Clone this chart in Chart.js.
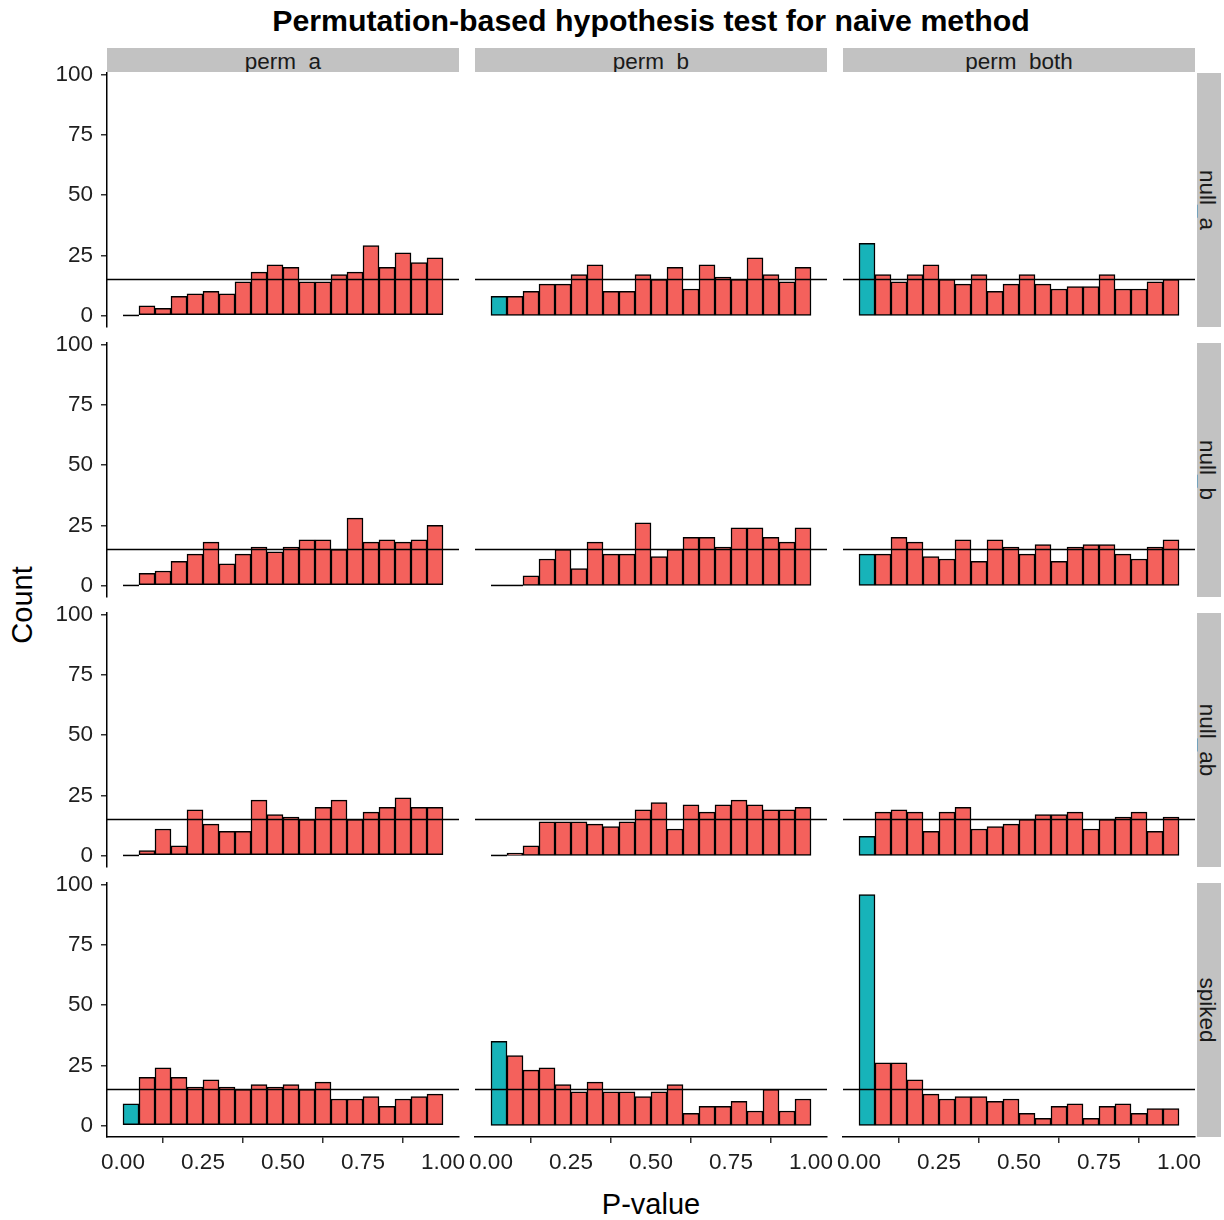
<!DOCTYPE html>
<html>
<head>
<meta charset="utf-8">
<title>Permutation-based hypothesis test for naive method</title>
<script src="https://cdn.jsdelivr.net/npm/chart.js@4.4.1/dist/chart.umd.min.js"></script>
<style>
  body { margin: 0; background: #fff; }
  #page { position: relative; width: 1224px; height: 1220px; overflow: hidden;
          font-family: 'Liberation Sans', Arial, sans-serif; color: #000; }
  #page canvas { position: absolute; }
  .title { position: absolute; left: 107px; width: 1088px; top: 3px; text-align: center;
           font-weight: bold; font-size: 30.3px; line-height: 36px; white-space: nowrap; }
  .strip { position: absolute; background: #c2c2c2; overflow: hidden; }
  .strip .inner { position: absolute; left: 0; top: 0; }
  .strip span { position: absolute; left: 0; right: 0; top: 3px; text-align: center;
                font-size: 22.5px; line-height: 22.5px; color: #1a1a1a; white-space: nowrap; }
  .axis-title { position: absolute; font-size: 29px; line-height: 34px; white-space: nowrap;
                transform: translate(-50%, -50%); }
</style>
</head>
<body>
<div id="page">
  <div class="title">Permutation-based hypothesis test for naive method</div>
  <div class="axis-title" style="left:22px; top:605px; transform: translate(-50%, -50%) rotate(-90deg);">Count</div>
  <div class="axis-title" style="left:651px; top:1204px;">P-value</div>
</div>
<script>
// bins of width 0.05 (centres), same for every facet
const binCenters = [0.025, 0.075, 0.125, 0.175, 0.225, 0.275, 0.325, 0.375, 0.425, 0.475,
                    0.525, 0.575, 0.625, 0.675, 0.725, 0.775, 0.825, 0.875, 0.925, 0.975];
const xTickValues = [0, 0.25, 0.5, 0.75, 1];
const xTickLabels = ['0.00', '0.25', '0.50', '0.75', '1.00'];
const yTickValues = [0, 25, 50, 75, 100];
const yTickLabels = ['0', '25', '50', '75', '100'];

const columnLabels = ['perm_a', 'perm_b', 'perm_both'];
const rowLabels = ['null_a', 'null_b', 'null_ab', 'spiked'];

// expected count per bin under uniform p-values (300 tests / 20 bins)
const expectedCount = 15;
const sigLevel = 0.05;

// counts per bin
const nullA_permA    = [0, 4, 3, 8, 9, 10, 9, 14, 18, 21, 20, 14, 14, 17, 18, 29, 20, 26, 22, 24];
const nullA_permB    = [8, 8, 10, 13, 13, 17, 21, 10, 10, 17, 15, 20, 11, 21, 16, 15, 24, 17, 14, 20];
const nullA_permBoth = [30, 17, 14, 17, 21, 15, 13, 17, 10, 13, 17, 13, 11, 12, 12, 17, 11, 11, 14, 15];

const nullB_permA    = [0, 5, 6, 10, 13, 18, 9, 13, 16, 14, 16, 19, 19, 15, 28, 18, 19, 18, 19, 25];
const nullB_permB    = [0, 0, 4, 11, 15, 7, 18, 13, 13, 26, 12, 15, 20, 20, 16, 24, 24, 20, 18, 24];
const nullB_permBoth = [13, 13, 20, 18, 12, 11, 19, 10, 19, 16, 13, 17, 10, 16, 17, 17, 13, 11, 16, 19];

const nullAB_permA    = [0, 2, 11, 4, 19, 13, 10, 10, 23, 17, 16, 15, 20, 23, 15, 18, 20, 24, 20, 20];
const nullAB_permB    = [0, 1, 4, 14, 14, 14, 13, 12, 14, 19, 22, 11, 21, 18, 21, 23, 21, 19, 19, 20];
const nullAB_permBoth = [8, 18, 19, 18, 10, 18, 20, 11, 12, 13, 15, 17, 17, 18, 11, 15, 16, 18, 10, 16];

const spiked_permA    = [9, 20, 24, 20, 16, 19, 16, 15, 17, 16, 17, 15, 18, 11, 11, 12, 8, 11, 12, 13];
const spiked_permB    = [35, 29, 23, 24, 17, 14, 18, 14, 14, 12, 14, 17, 5, 8, 8, 10, 6, 15, 6, 11];
const spiked_permBoth = [96, 26, 26, 19, 13, 11, 12, 12, 10, 11, 5, 3, 8, 9, 3, 8, 9, 5, 7, 7];

const panelCounts = [
  [nullA_permA, nullA_permB, nullA_permBoth],
  [nullB_permA, nullB_permB, nullB_permBoth],
  [nullAB_permA, nullAB_permB, nullAB_permBoth],
  [spiked_permA, spiked_permB, spiked_permBoth]
];

// ggplot-ish expansion of the shared scales
const xMin = -0.05, xMax = 1.05;
const yMin = -4.8, yMax = 100.8;

// layout of the facet grid
const panelLeft = [107, 475, 843];
const panelTop = [73, 343, 613, 883];
const panelW = 352, panelH = 254;
const stripH = 24, stripW = 24, stripRightX = 1197;

const red = '#f4615c';
const teal = '#17b3b9';
const textColor = '#1e1e1e';
const lineW = 1.5;

Chart.defaults.font.family = "'Liberation Sans', Arial, sans-serif";
Chart.defaults.color = textColor;

const page = document.getElementById('page');

// strips on top (columns) and right (rows)
columnLabels.forEach((lab, c) => {
  const d = document.createElement('div');
  d.className = 'strip';
  d.style.cssText = `left:${panelLeft[c]}px;top:${panelTop[0] - stripH - 1}px;width:${panelW}px;height:${stripH}px`;
  d.innerHTML = `<span>${lab}</span>`;
  page.appendChild(d);
});
rowLabels.forEach((lab, r) => {
  const d = document.createElement('div');
  d.className = 'strip';
  d.style.cssText = `left:${stripRightX}px;top:${panelTop[r]}px;width:${stripW}px;height:${panelH}px`;
  d.innerHTML = `<div class="inner" style="width:${panelH}px;height:${stripW}px;transform-origin:0 0;transform:translateX(${stripW}px) rotate(90deg)"><span>${lab}</span></div>`;
  page.appendChild(d);
});

// horizontal reference line + flat outline for empty bins
const refLine = {
  id: 'refLine',
  afterDatasetsDraw(chart) {
    const { ctx, chartArea, scales } = chart;
    const counts = chart.data.datasets[0].data;
    ctx.save();
    ctx.strokeStyle = '#000';
    ctx.lineWidth = lineW;
    chart.getDatasetMeta(0).data.forEach((bar, i) => {
      if (counts[i].y !== 0) return;
      const p = bar.getProps(['x', 'width', 'base'], true);
      ctx.beginPath();
      ctx.moveTo(p.x - p.width / 2, p.base);
      ctx.lineTo(p.x + p.width / 2, p.base);
      ctx.stroke();
    });
    const y = scales.y.getPixelForValue(expectedCount);
    ctx.beginPath();
    ctx.moveTo(chartArea.left, y);
    ctx.lineTo(chartArea.right, y);
    ctx.stroke();
    ctx.restore();
  }
};

function makePanel(r, c) {
  const counts = panelCounts[r][c];
  const pad = 18;
  const showY = c === 0;
  const showX = r === rowLabels.length - 1;
  const yAxisW = showY ? 62 : 0;
  const xAxisH = showX ? 46 : 0;
  const w = pad + yAxisW + panelW + pad;
  const h = pad + panelH + xAxisH + pad;

  const canvas = document.createElement('canvas');
  canvas.width = w;
  canvas.height = h;
  canvas.style.cssText = `left:${panelLeft[c] - yAxisW - pad}px;top:${panelTop[r] - pad}px;width:${w}px;height:${h}px`;
  page.appendChild(canvas);

  new Chart(canvas, {
    type: 'bar',
    data: {
      datasets: [{
        data: binCenters.map((x, i) => ({ x: x, y: counts[i] })),
        backgroundColor: binCenters.map(x => x < sigLevel ? teal : red),
        borderColor: '#000',
        borderWidth: lineW,
        borderSkipped: false,
        barPercentage: 1,
        categoryPercentage: 1
      }]
    },
    options: {
      responsive: false,
      animation: false,
      events: [],
      layout: { padding: pad },
      plugins: { legend: { display: false }, tooltip: { enabled: false } },
      scales: {
        x: {
          type: 'linear',
          min: xMin,
          max: xMax,
          offset: false,
          display: showX,
          grid: { display: true, drawOnChartArea: false, drawTicks: true, tickLength: 6, color: '#333', lineWidth: lineW },
          border: { display: true, color: '#000', width: lineW },
          ticks: {
            autoSkip: false, maxRotation: 0, padding: 6,
            font: { size: 22.5 }, color: textColor,
            callback: (v, i) => xTickLabels[i]
          },
          afterBuildTicks: s => { s.ticks = xTickValues.map(v => ({ value: v })); },
          afterFit: s => { if (showX) { s.height = xAxisH; } s.paddingLeft = 0; s.paddingRight = 0; }
        },
        y: {
          min: yMin,
          max: yMax,
          display: showY,
          grid: { display: true, drawOnChartArea: false, drawTicks: true, tickLength: 6, color: '#333', lineWidth: lineW },
          border: { display: true, color: '#000', width: lineW },
          ticks: {
            padding: 8,
            font: { size: 22.5 }, color: textColor,
            callback: (v, i) => yTickLabels[i]
          },
          afterBuildTicks: s => { s.ticks = yTickValues.map(v => ({ value: v })); },
          afterFit: s => { if (showY) { s.width = yAxisW; } s.paddingTop = 0; s.paddingBottom = 0; }
        }
      }
    },
    plugins: [refLine]
  });
}

for (let r = 0; r < rowLabels.length; r++) {
  for (let c = 0; c < columnLabels.length; c++) {
    makePanel(r, c);
  }
}
</script>
</body>
</html>
